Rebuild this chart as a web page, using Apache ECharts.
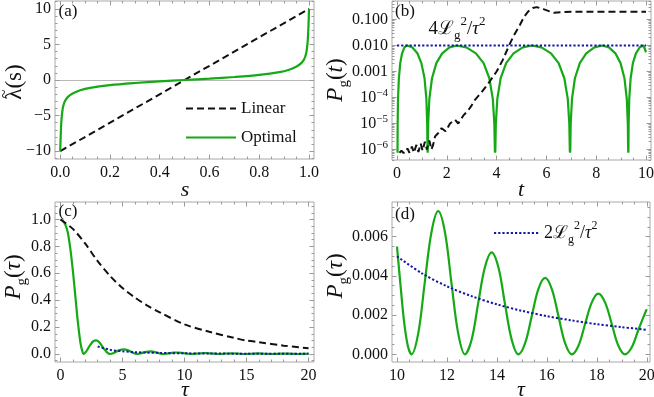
<!DOCTYPE html>
<html><head><meta charset="utf-8">
<script src="https://cdn.jsdelivr.net/npm/echarts@6/dist/echarts.min.js"></script>
<style>html,body{margin:0;padding:0;background:#fff}#c{width:654px;height:397px}</style>
</head><body><div id="c"></div>
<script>
// ---------- DATA ----------
// (a) schedules
const aS_lin = [0, 1];
const aLam_lin = [-10, 10];
const aS_opt = [0, 0.002, 0.005, 0.01, 0.015, 0.02, 0.03, 0.05, 0.08, 0.12, 0.2, 0.3, 0.4, 0.5, 0.6, 0.7, 0.8, 0.88, 0.92, 0.95, 0.97, 0.98, 0.985, 0.99, 0.995, 0.998, 1];
const aLam_opt = [-10, -7.8, -5.6, -4.0, -3.3, -2.9, -2.4, -1.9, -1.45, -1.1, -0.72, -0.42, -0.18, 0, 0.18, 0.42, 0.72, 1.1, 1.45, 1.9, 2.4, 2.9, 3.3, 4.0, 5.6, 7.8, 10];
// (b) P_g(t), log scale
const bT_opt = [0.02, 0.022, 0.027, 0.042, 0.076, 0.131, 0.205, 0.298, 0.40,
  0.61, 0.82, 0.98, 1.106, 1.18, 1.213, 1.225, 1.23,
  1.237, 1.253, 1.30, 1.406, 1.581, 1.815, 2.108, 2.40,
  2.785, 3.17, 3.478, 3.709, 3.848, 3.909, 3.931, 3.94,
  3.949, 3.97, 4.029, 4.162, 4.384, 4.68, 5.05, 5.42,
  5.80, 6.185, 6.491, 6.72, 6.858, 6.919, 6.941, 6.95,
  6.958, 6.976, 7.028, 7.145, 7.34, 7.60, 7.925, 8.25,
  8.51, 8.77, 8.978, 9.134, 9.228, 9.269, 9.284, 9.29,
  9.294, 9.302, 9.327, 9.382, 9.473, 9.595, 9.748, 9.90, 9.95, 10.0];
const bP_opt = [7.5e-7, 9e-7, 1e-5, 8.9e-5, 5.5e-4, 2.1e-3, 5e-3, 8.5e-3, 0.01,
  8.5e-3, 5e-3, 2.1e-3, 5.5e-4, 8.9e-5, 1e-5, 9e-7, 7.5e-7,
  9e-7, 1e-5, 8.9e-5, 5.5e-4, 2.1e-3, 5e-3, 8.5e-3, 0.01,
  8.5e-3, 5e-3, 2.1e-3, 5.5e-4, 8.9e-5, 1e-5, 9e-7, 7.5e-7,
  9e-7, 1e-5, 8.9e-5, 5.5e-4, 2.1e-3, 5e-3, 8.5e-3, 0.01,
  8.5e-3, 5e-3, 2.1e-3, 5.5e-4, 8.9e-5, 1e-5, 9e-7, 7.5e-7,
  9e-7, 1e-5, 8.9e-5, 5.5e-4, 2.1e-3, 5e-3, 8.5e-3, 0.01,
  8.5e-3, 5e-3, 2.1e-3, 5.5e-4, 8.9e-5, 1e-5, 9e-7, 7.5e-7,
  9e-7, 1e-5, 8.9e-5, 5.5e-4, 2.1e-3, 5e-3, 8.5e-3, 0.01, 0.0086, 0.0055];
const bT_lin = [0.1, 0.18, 0.25, 0.35, 0.42, 0.5, 0.6, 0.68, 0.78, 0.86, 0.95, 1.03, 1.12, 1.2, 1.3, 1.38, 1.45, 1.53, 1.66, 1.79, 1.95, 2.13, 2.33, 2.46, 2.66, 2.86, 3.0, 3.13, 3.4, 3.73, 4.0, 4.25, 4.5, 4.7, 4.94, 5.1, 5.27, 5.45, 5.61, 5.88, 6.1, 6.3, 6.6, 7.0, 7.5, 8.5, 10];
const bP_lin = [7.5e-7, 9e-7, 7.5e-7, 7.5e-7, 1.1e-6, 7.5e-7, 1.3e-6, 7.5e-7, 1.5e-6, 8e-7, 1.7e-6, 9e-7, 2.0e-6, 1.0e-6, 2.2e-6, 1.0e-6, 1.5e-6, 3.2e-6, 4.3e-6, 6.6e-6, 5e-6, 1e-5, 1.4e-5, 1e-5, 2e-5, 3.2e-5, 5e-5, 8.1e-5, 1.6e-4, 4.2e-4, 1e-3, 2.8e-3, 0.01, 0.025, 0.063, 0.126, 0.204, 0.275, 0.30, 0.25, 0.21, 0.18, 0.19, 0.2, 0.2, 0.2, 0.2];
const bT_bound = [0, 10];
const bP_bound = [0.01, 0.01];
// (c) P_g(tau)
const cTau_lin = [0, 1, 2, 3, 4, 5, 6, 7, 8, 10, 12, 14, 15, 16, 18, 20];
const cP_lin = [1.0, 0.93, 0.82, 0.69, 0.58, 0.49, 0.42, 0.36, 0.31, 0.22, 0.165, 0.12, 0.1, 0.088, 0.062, 0.043];
const cTau_opt = [0, 0.2, 0.4, 0.6, 0.8, 1.0, 1.2, 1.4, 1.6, 1.75, 1.88, 2.05, 2.35, 2.65, 2.9, 3.15, 3.45, 3.75, 4.0, 4.3, 4.7, 5.1, 5.5, 5.85, 6.15, 6.5, 6.9, 7.3, 7.7, 8.0, 8.3, 8.7, 9.1, 9.45, 9.8, 10.0, 10.3, 10.58, 11.1, 11.65, 12.2, 12.72, 13.25, 13.79, 14.33, 14.86, 15.4, 15.93, 16.47, 17.0, 17.53, 18.06, 18.6, 19.13, 19.6, 20];
const cP_opt = [1.0, 0.99, 0.96, 0.9, 0.78, 0.62, 0.43, 0.24, 0.09, 0.025, 0.0, 0.015, 0.06, 0.095, 0.102, 0.085, 0.045, 0.012, 0.0, 0.008, 0.027, 0.035, 0.026, 0.009, 0.0, 0.006, 0.016, 0.019, 0.012, 0.004, 0.0, 0.005, 0.0105, 0.0112, 0.0085, 0.0055, 0.0018, 0, 0.0036, 0.0073, 0.0036, 0, 0.0026, 0.0052, 0.0026, 0, 0.0019, 0.0039, 0.0019, 0, 0.0016, 0.0031, 0.0016, 0, 0.0011, 0.0023];
const cTau_bound = [3, 4, 5, 6, 7, 8, 10, 12, 15, 20];
const cP_bound = [0.0556, 0.031, 0.02, 0.0139, 0.0102, 0.0078, 0.005, 0.0035, 0.0022, 0.00125];
// (d) zoom of optimal
const dTau_opt = [10.0, 10.15, 10.29, 10.44, 10.58, 10.85, 11.11, 11.38, 11.65, 11.92, 12.18, 12.45, 12.72, 12.99, 13.25, 13.52, 13.79, 14.06, 14.32, 14.59, 14.86, 15.13, 15.395, 15.66, 15.93, 16.2, 16.465, 16.73, 17.0, 17.27, 17.53, 17.8, 18.06, 18.33, 18.6, 18.86, 19.13, 19.4, 19.66, 19.93, 20.0];
const dP_opt = [0.0055, 0.0034, 0.0016, 0.0004, 0, 0.00107, 0.00365, 0.00623, 0.0073, 0.00623, 0.00365, 0.00107, 0, 0.00076, 0.0026, 0.00444, 0.0052, 0.00444, 0.0026, 0.00076, 0, 0.00057, 0.00195, 0.00333, 0.0039, 0.00333, 0.00195, 0.00057, 0, 0.00045, 0.00155, 0.00265, 0.0031, 0.00265, 0.00155, 0.00045, 0, 0.00036, 0.00123, 0.0021, 0.0023];
const dTau_bound = [10, 11, 12, 13, 14, 15, 16, 17, 18, 19, 20];
const dP_bound = [0.005, 0.00413, 0.00347, 0.00296, 0.00255, 0.00222, 0.00195, 0.00173, 0.00154, 0.00139, 0.00125];
// tick labels
const aXTicks = [0, 0.2, 0.4, 0.6, 0.8, 1.0];
const aYTicks = [-10, -5, 0, 5, 10];
const bXTicks = [0, 2, 4, 6, 8, 10];
const bYTickExp = [-6, -5, -4, -3, -2, -1];
const cXTicks = [0, 5, 10, 15, 20];
const cYTicks = [0, 0.2, 0.4, 0.6, 0.8, 1.0];
const dXTicks = [10, 12, 14, 16, 18, 20];
const dYTicks = [0, 0.002, 0.004, 0.006];

// ---------- LAYOUT / STYLE ----------
const FF = "'Liberation Serif','DejaVu Serif',serif";
const TICK = '#9a9a9a';
const FRAME = '#a8a8a8';
const GREEN = '#16a916';
const BLUE = '#1616a8';
const BLK = '#111';
const bYMin = 3.94e-7, bYMax = 0.515;

function rng(a, b, step) { const o = []; for (let v = a; v <= b + 1e-9; v += step) o.push(+v.toFixed(8)); return o; }
function zip(xs, ys) { return xs.map((x, i) => [x, ys[i]]); }
function logMinors(lo, hi) {
  const o = [];
  for (let n = -8; n <= 0; n++) for (let k = 2; k <= 9; k++) { const v = Math.log10(k) + n; if (v >= lo && v <= hi) o.push(v); }
  return o;
}

const grids = [
  {left: 55, top: 1, width: 259, height: 158},
  {left: 392, top: 1, width: 259, height: 159},
  {left: 55, top: 202, width: 259, height: 160},
  {left: 392, top: 202, width: 258, height: 160}
].map(g => Object.assign(g, {show: true, borderColor: FRAME, borderWidth: 1, backgroundColor: 'transparent', containLabel: false, outerBoundsMode: 'none'}));

const xAxes = [], yAxes = [];
function tickSet(list, dim, gi, min, max, majors, minors, fmt, margin, rich) {
  const pos = dim === 'x' ? ['bottom', 'top'] : ['left', 'right'];
  const first = list.length;
  pos.forEach((p, pi) => {
    [[majors, 4.5, pi === 0], [minors, 2.5, false]].forEach(([vals, len, lab]) => {
      list.push({
        type: 'value', gridIndex: gi, position: p, min: min, max: max, silent: true,
        axisLine: {show: false, onZero: false},
        splitLine: {show: false},
        axisTick: {show: true, inside: true, length: len, customValues: vals, lineStyle: {color: TICK, width: 1}},
        axisLabel: lab ? {show: true, customValues: majors, formatter: fmt, margin: margin, color: '#111',
          fontFamily: FF, fontSize: 16, rich: rich} : {show: false}
      });
    });
  });
  return first;
}
const minus = v => (v < 0 ? '\u2212' : '') + Math.abs(v);

// (a)
const aX = tickSet(xAxes, 'x', 0, -0.021, 1.02, aXTicks, rng(0, 1, 0.05), v => v.toFixed(1), 6);
const aY = tickSet(yAxes, 'y', 0, -11.1, 11.1, aYTicks, rng(-11, 11, 1), minus, 4);
xAxes.push({type: 'value', gridIndex: 0, min: -0.021, max: 1.02, silent: true,
  axisLine: {show: true, onZero: true, onZeroAxisIndex: aY, lineStyle: {color: '#b8b8b8', width: 1}},
  axisTick: {show: false}, axisLabel: {show: false}, splitLine: {show: false}});
// (b)
const bX = tickSet(xAxes, 'x', 1, -0.2, 10.2, bXTicks, rng(0, 10, 0.5), v => String(v), 6);
const bLo = Math.log10(bYMin), bHi = Math.log10(bYMax);
tickSet(yAxes, 'y', 1, bLo, bHi, bYTickExp, logMinors(bLo, bHi), v => {
  const e = Math.round(v);
  if (e >= -3) return Math.pow(10, e).toFixed(3);
  return '{m|10}{e|\u2212' + (-e) + '}';
}, 4, {m: {fontFamily: FF, fontSize: 16, lineHeight: 20, color: '#111'}, e: {fontFamily: FF, fontSize: 11, lineHeight: 12, verticalAlign: 'top', color: '#111'}});
const bY = yAxes.length;
yAxes.push({type: 'log', logBase: 10, gridIndex: 1, min: bYMin, max: bYMax, show: false});
// (c)
const cX = tickSet(xAxes, 'x', 2, -0.44, 20.44, cXTicks, rng(0, 20, 1), v => String(v), 6);
const cY = tickSet(yAxes, 'y', 2, -0.0595, 1.13, cYTicks, rng(-0.05, 1.1, 0.05), v => v.toFixed(1), 4);
// (d)
const dX = tickSet(xAxes, 'x', 3, 9.8, 20.13, dXTicks, rng(10, 20, 0.5), v => String(v), 6);
const dY = tickSet(yAxes, 'y', 3, -0.00039, 0.00777, dYTicks, rng(0, 0.0075, 0.0005), v => v.toFixed(3), 4);

function line(name, xi, yi, data, color, type, width, z, smooth) {
  return {name: name, type: 'line', xAxisIndex: xi, yAxisIndex: yi, data: data, symbol: 'none', showSymbol: false,
    smooth: smooth || false, z: z, silent: true, animation: false,
    lineStyle: {color: color, width: width, type: type, cap: 'butt'}, itemStyle: {color: color}};
}
const DASH = [7, 4], DOT = [2.2, 2];
const series = [
  line('Linear', aX, aY, zip(aS_lin, aLam_lin), BLK, DASH, 2, 3),
  line('Optimal', aX, aY, zip(aS_opt, aLam_opt), GREEN, 'solid', 2.2, 4, 0.3),
  line('bOpt', bX, bY, zip(bT_opt, bP_opt), GREEN, 'solid', 2.2, 3),
  line('bLin', bX, bY, zip(bT_lin, bP_lin), BLK, DASH, 2, 4),
  line('bBound', bX, bY, zip(bT_bound, bP_bound), BLUE, DOT, 2, 5),
  line('cOpt', cX, cY, zip(cTau_opt, cP_opt), GREEN, 'solid', 2.2, 3, 0.3),
  line('cLin', cX, cY, zip(cTau_lin, cP_lin), BLK, DASH, 2, 4, 0.3),
  line('cBound', cX, cY, zip(cTau_bound, cP_bound), BLUE, DOT, 2, 5, 0.3),
  line('dOpt', dX, dY, zip(dTau_opt, dP_opt), GREEN, 'solid', 2.2, 3, 0.35),
  line('dBound', dX, dY, zip(dTau_bound, dP_bound), BLUE, DOT, 2, 5, 0.3)
];

function richSet(fs, sfs) {
  return {
    n: {fontFamily: FF, fontSize: fs, lineHeight: fs + 8, color: '#111'},
    i: {fontFamily: FF, fontSize: fs, fontStyle: 'italic', lineHeight: fs + 8, color: '#111'},
    s: {fontFamily: FF, fontSize: sfs, lineHeight: sfs, verticalAlign: 'bottom', color: '#111'},
    p: {fontFamily: FF, fontSize: sfs, lineHeight: sfs + 2, verticalAlign: 'top', color: '#111'}
  };
}
const R = richSet(19, 13);
const RL = richSet(18, 12);
const RY = richSet(23, 15);
function txt(x, y, text, opts) {
  return {type: 'text', x: x, y: y, silent: true, z: 50,
    style: Object.assign({text: text, fill: '#111', fontFamily: FF, fontSize: 17, textAlign: 'center', textVerticalAlign: 'middle'}, opts || {})};
}
function rot(x, y, text, rich, opts) {
  const t = txt(x, y, text, Object.assign({rich: rich}, opts || {}));
  t.rotation = Math.PI / 2;
  return t;
}
const graphic = [
  txt(68, 12, '(a)'), txt(405, 12, '(b)'), txt(68, 212, '(c)'), txt(405, 215, '(d)'),
  txt(185, 190, 's', {fontStyle: 'italic', fontSize: 22}),
  txt(521, 190, 't', {fontStyle: 'italic', fontSize: 22}),
  txt(185, 390, '\u03c4', {fontStyle: 'italic', fontSize: 22}),
  txt(521, 390, '\u03c4', {fontStyle: 'italic', fontSize: 22}),
  rot(15, 82, '{n|\u03bb(s)}', RY),
  rot(5, 94, '~', null, {fontSize: 16}),
  rot(336, 80, '{i|P}{s|g}{n|(}{i|t}{n|)}', RY),
  rot(14, 277, '{i|P}{s|g}{n|(}{i|\u03c4}{n|)}', RY),
  rot(336, 276, '{i|P}{s|g}{n|(}{i|\u03c4}{n|)}', RY),
  txt(457, 29, '{n|4\u2112}{s|g}{p|2}{n|/}{i|\u03c4}{p|2}', {rich: R})
];

const chart = echarts.init(document.getElementById('c'), null, {renderer: 'canvas'});
chart.setOption({
  animation: false,
  backgroundColor: '#fff',
  grid: grids,
  xAxis: xAxes,
  yAxis: yAxes,
  legend: [
    {data: ['Linear', 'Optimal'], orient: 'vertical', left: 180, top: 95, itemWidth: 50, itemHeight: 14, itemGap: 12,
      selectedMode: false, itemStyle: {opacity: 0}, textStyle: {fontFamily: FF, fontSize: 17, color: '#111'}},
    {data: ['dBound'], left: 488, top: 215, itemWidth: 45, itemHeight: 14, selectedMode: false, itemStyle: {opacity: 0},
      formatter: () => '{n|2\u2112}{s|g}{p|2}{n|/}{i|\u03c4}{p|2}', textStyle: {rich: RL}}
  ],
  series: series,
  graphic: graphic
});
</script></body></html>
